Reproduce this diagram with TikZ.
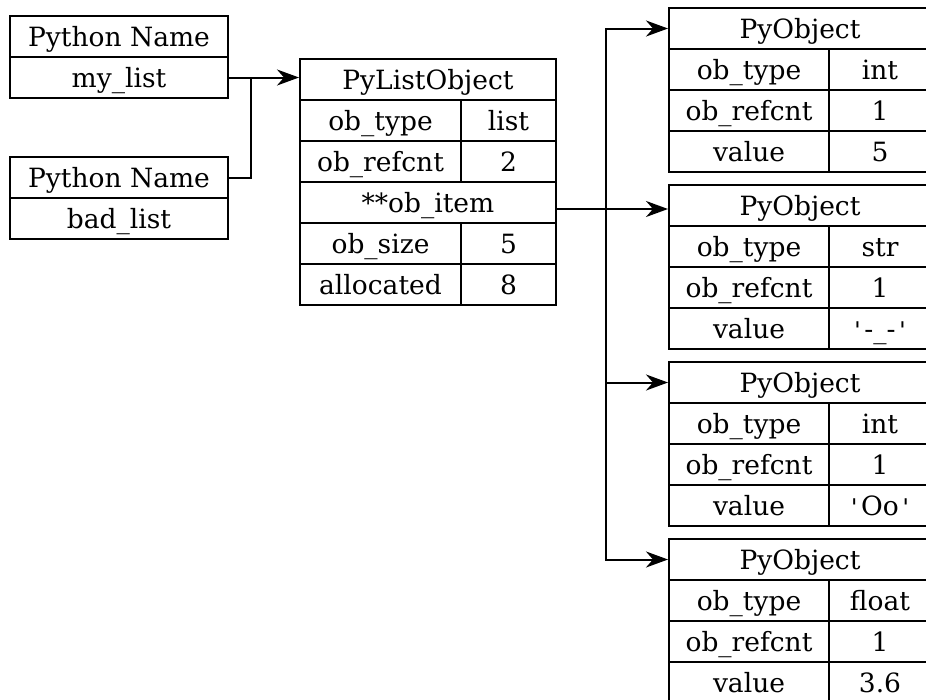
\documentclass[tikz,border=0pt]{standalone}
\usepackage{fontspec}
\setmainfont{DejaVu Serif}
\setmonofont{DejaVu Sans Mono}
\usetikzlibrary{arrows.meta}
\tikzset{
  x=1pt,y=-1pt,
  cell/.style={draw,line width=2pt,anchor=north west,inner sep=0pt,
    minimum height=41pt,text height=20pt,text depth=-2pt,font=\fontsize{26.5}{30}\selectfont},
  conn/.style={line width=2pt},
  arr/.style={conn,-{Stealth[length=22pt,width=16pt,inset=7pt]}},
}
\newcommand{\qt}{{\ttfamily\fontsize{23}{26}\selectfont'}}
\begin{document}
\begin{tikzpicture}
\useasboundingbox (0,0) rectangle (926,699);
\clip (0,0) rectangle (926,699);
% Python names
\node[cell,minimum width=218pt] (n1h) at (9,15) {Python Name};
\node[cell,minimum width=218pt] (n1v) at (9,56) {my\_list};
\node[cell,minimum width=218pt] (n2h) at (9,156) {Python Name};
\node[cell,minimum width=218pt] (n2v) at (9,197) {bad\_list};
% PyListObject
\node[cell,minimum width=256pt] (lh) at (299,58) {PyListObject};
\node[cell,minimum width=161pt] (lt) at (299,99) {ob\_type};
\node[cell,minimum width=95pt] (ltv) at (460,99) {list};
\node[cell,minimum width=161pt] (lr) at (299,140) {ob\_refcnt};
\node[cell,minimum width=95pt] (lrv) at (460,140) {2};
\node[cell,minimum width=256pt] (litem) at (299,181) {**ob\_item};
\node[cell,minimum width=161pt] (ls) at (299,222) {ob\_size};
\node[cell,minimum width=95pt] (lsv) at (460,222) {5};
\node[cell,minimum width=161pt] (la) at (299,263) {allocated};
\node[cell,minimum width=95pt] (lav) at (460,263) {8};
% PyObjects
\newcommand{\pyobj}[4]{%
  \node[cell,minimum width=262pt] (#1h) at (668,#2) {PyObject};
  \node[cell,minimum width=160pt] (#1t) at (668,#2+41) {ob\_type};
  \node[cell,minimum width=102pt] (#1tv) at (828,#2+41) {#3};
  \node[cell,minimum width=160pt] (#1r) at (668,#2+82) {ob\_refcnt};
  \node[cell,minimum width=102pt] (#1rv) at (828,#2+82) {1};
  \node[cell,minimum width=160pt] (#1v) at (668,#2+123) {value};
  \node[cell,minimum width=102pt] (#1vv) at (828,#2+123) {#4};
}
\pyobj{oa}{7}{int}{5}
\pyobj{ob}{184}{str}{\qt-\_-\qt}
\pyobj{oc}{361}{int}{\qt Oo\qt}
\pyobj{od}{538}{float}{3.6}
% connectors
\coordinate (j) at (251,77);
\draw[arr] (n1v.east) -- (n1v.east -| lh.west);
\draw[conn] (n2h.east) -| (j);
\coordinate (t) at (606,209);
\draw[arr] (litem.east |- t) -- (obh.west |- t);
\draw[arr] (t) |- (oah.west);
\draw[arr] (t) |- (och.west);
\draw[arr] (t) |- (odh.west);
\end{tikzpicture}
\end{document}
